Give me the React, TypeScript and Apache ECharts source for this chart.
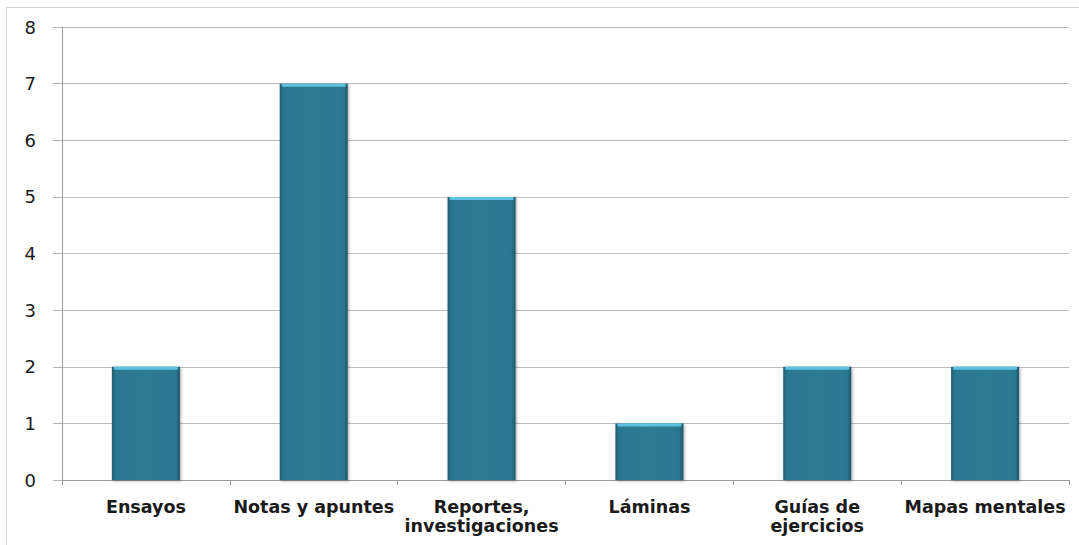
import React, { useEffect, useRef } from "react";
import * as echarts from "echarts";

const categories = [
  "Ensayos",
  "Notas y apuntes",
  "Reportes,\ninvestigaciones",
  "Láminas",
  "Guías de\nejercicios",
  "Mapas mentales",
];
const values = [2, 7, 5, 1, 2, 2];
const yTicks = { min: 0, max: 8, interval: 1 };

export default function App() {
  const ref = useRef<HTMLDivElement>(null);
  useEffect(() => {
    if (!ref.current) return;
    const chart = echarts.init(ref.current, null, { renderer: "svg" });
    chart.setOption({
      animation: false,
      backgroundColor: "#ffffff",
      graphic: [
        {
          type: "rect",
          shape: { x: 6.5, y: 7.5, width: 1090, height: 560 },
          style: { fill: "none", stroke: "#d4d4d4", lineWidth: 1 },
          silent: true,
        },
      ],
      grid: { left: 62, right: 10, top: 27, bottom: 65 },
      xAxis: {
        type: "category",
        data: categories,
        axisLine: { lineStyle: { color: "#9a9a9a", width: 1 } },
        axisTick: { show: true, length: 5, lineStyle: { color: "#9a9a9a" } },
        axisLabel: {
          interval: 0,
          margin: 17,
          fontFamily: "DejaVu Sans, Liberation Sans, Arial, sans-serif",
          fontWeight: "bold",
          fontSize: 17.5,
          lineHeight: 19,
          color: "#1a1a1a",
        },
      },
      yAxis: {
        type: "value",
        min: yTicks.min,
        max: yTicks.max,
        interval: yTicks.interval,
        axisLine: { show: true, lineStyle: { color: "#9a9a9a", width: 1 } },
        axisTick: { show: true, length: 9, lineStyle: { color: "#b5b5b5" } },
        splitLine: { show: true, lineStyle: { color: "#bdbdbd", width: 1 } },
        axisLabel: {
          margin: 26,
          fontFamily: "DejaVu Sans, Liberation Sans, Arial, sans-serif",
          fontSize: 18,
          color: "#1a1a1a",
        },
      },
      series: [
        {
          type: "bar",
          data: values,
          barWidth: 68,
          itemStyle: {
            color: new echarts.graphic.LinearGradient(0, 0, 1, 0, [
              { offset: 0, color: "#235f72" },
              { offset: 0.06, color: "#2c7790" },
              { offset: 0.5, color: "#2e7b94" },
              { offset: 0.94, color: "#2c7790" },
              { offset: 1, color: "#1f5566" },
            ]),
            borderWidth: 0,
            shadowColor: "rgba(0,0,0,0.35)",
            shadowBlur: 3,
            shadowOffsetX: 1,
            shadowOffsetY: 1,
          },
        },
        {
          type: "bar",
          data: values,
          barWidth: 68,
          barGap: "-100%",
          silent: true,
          itemStyle: { color: "transparent" },
          label: {
            show: true,
            position: "insideTop",
            distance: 0,
            formatter: () => "",
            backgroundColor: "#5ec3e0",
            borderRadius: 1,
            width: 64,
            height: 3,
            padding: 0,
          },
        },
      ],
    });
    return () => chart.dispose();
  }, []);
  return (
    <div
      ref={ref}
      style={{ position: "absolute", left: 0, top: 0, width: 1079, height: 545 }}
    />
  );
}
